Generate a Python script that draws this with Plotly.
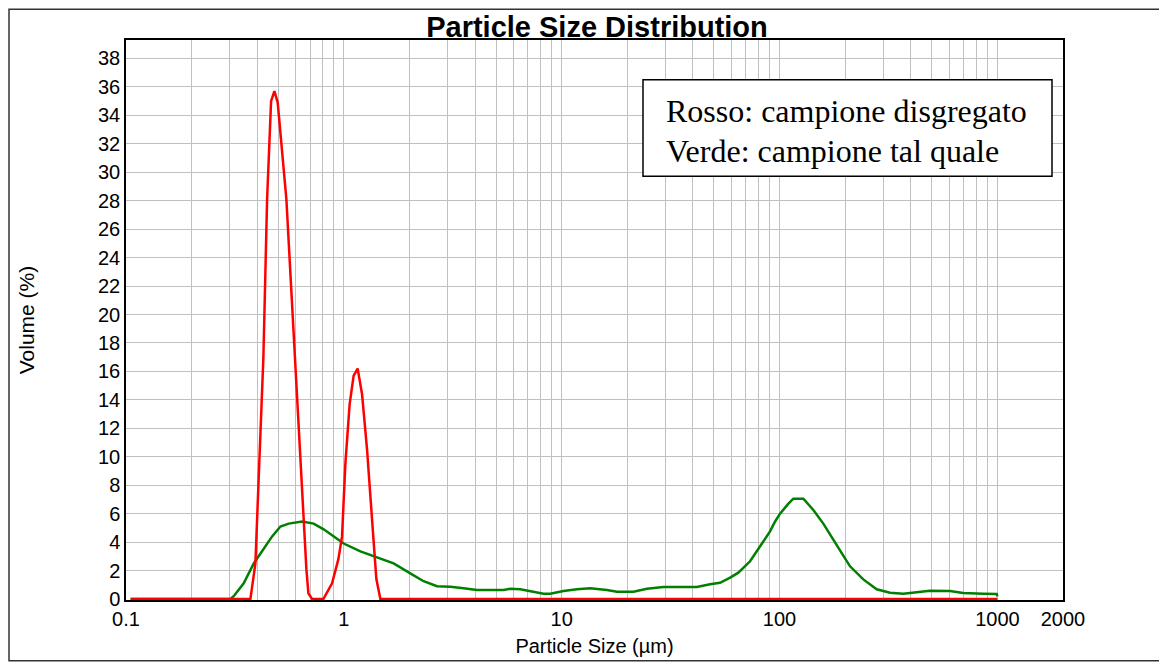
import plotly.graph_objects as go

# ---- data (particle size in µm, volume in %) ----
red_size = [0.105, 0.3725, 0.3926, 0.4272, 0.4443, 0.4634, 0.4799, 0.4969, 0.5448,
            0.5948, 0.6318, 0.673, 0.6874, 0.7148, 0.8054, 0.8828, 0.9437, 0.981,
            1.016, 1.063, 1.109, 1.157, 1.212, 1.278, 1.347, 1.41, 1.471, 1000]
red_vol = [0, 0, 2.5, 17, 28.1, 35.0, 35.7, 34.9, 28.1,
           17, 9.1, 2.1, 0.4, 0, 0, 1.1, 2.8, 4.4,
           9.5, 13.7, 15.7, 16.2, 14.4, 10.5, 5.6, 1.4, 0, 0]

green_size = [0.105, 0.3016, 0.3122, 0.347, 0.3858, 0.4286, 0.4685, 0.5114, 0.5583,
              0.6434, 0.7269, 0.8079, 0.8978, 0.998, 1.191, 1.42, 1.692, 2.018,
              2.323, 2.677, 3.08, 3.544, 4.083, 5.41, 5.805, 6.451, 7.17, 8.25,
              8.86, 10.19, 11.74, 13.51, 16.12, 17.92, 21.35, 24.6, 29.3, 41.7,
              48.0, 53.3, 59.3, 64.7, 73.2, 81.4, 90.4, 95.4, 100.5, 109.8,
              115.7, 128.6, 142.9, 158.8, 173.5, 192.9, 210.6, 242.3, 279.2,
              321.3, 369.8, 426.0, 490.3, 605.5, 696.8, 860.8, 991.6, 1000]
green_vol = [0, 0, 0.2, 1.1, 2.5, 3.5, 4.4, 5.1, 5.3,
             5.45, 5.3, 4.9, 4.4, 3.9, 3.35, 2.9, 2.5, 1.8,
             1.25, 0.9, 0.86, 0.75, 0.63, 0.63, 0.72, 0.68, 0.56, 0.37,
             0.37, 0.56, 0.68, 0.75, 0.63, 0.51, 0.51, 0.72, 0.84, 0.84,
             1.03, 1.14, 1.5, 1.85, 2.65, 3.7, 4.75, 5.45, 6.0, 6.7,
             7.05, 7.05, 6.26, 5.3, 4.4, 3.23, 2.3, 1.38, 0.68,
             0.44, 0.37, 0.49, 0.58, 0.56, 0.42, 0.37, 0.35, 0.18]

x_tick_vals = [0.1, 1, 10, 100, 1000, 2000]
x_tick_text = ["0.1", "1", "10", "100", "1000", "2000"]
x_minor_vals = [m * d for d in (0.1, 1, 10, 100) for m in range(2, 10)]
y_tick_vals = list(range(0, 39, 2))

title_text = "Particle Size Distribution"
legend_lines = ["Rosso: campione disgregato", "Verde: campione tal quale"]

GRID = "#c0c0c0"
FONT = "Liberation Sans, Arial, sans-serif"

# page offset of the figure inside the browser (body margin)
OFF = 8
W, H = 1167 - OFF, 666 - OFF
ML, MR, MT, MB = 126 - OFF, 104, 40 - OFF, 63
PW = W - ML - MR
PH = H - MT - MB


def px_x(p):  # page pixel -> paper x
    return (p - OFF - ML) / PW


def px_y(p):  # page pixel -> paper y
    return (H - MB - (p - OFF)) / PH


fig = go.Figure()
fig.add_trace(go.Scatter(x=green_size, y=green_vol, mode="lines",
                         line=dict(color="#008000", width=2.5), showlegend=False))
fig.add_trace(go.Scatter(x=red_size, y=red_vol, mode="lines",
                         line=dict(color="#ff0000", width=2.5), showlegend=False))

fig.update_layout(
    width=W, height=H,
    margin=dict(l=ML, r=MR, t=MT, b=MB),
    paper_bgcolor="white", plot_bgcolor="white",
    font=dict(family=FONT, color="black", size=20),
    title=dict(text="<b>" + title_text + "</b>", x=px_x(597), xref="paper", xanchor="center",
               y=1 - (27 - OFF) / H, yanchor="middle", yref="container",
               font=dict(family=FONT, size=29, color="black")),
    showlegend=False,
)

fig.update_xaxes(
    type="log", range=[-1, 3.30103],
    tickvals=x_tick_vals, ticktext=x_tick_text, ticks="", ticklen=0,
    tickfont=dict(size=20),
    showgrid=True, gridcolor=GRID, gridwidth=1,
    minor=dict(tickvals=x_minor_vals, showgrid=True, gridcolor=GRID, gridwidth=1, ticks=""),
    showline=True, linecolor="black", linewidth=1.5, mirror=True,
    layer="below traces",
    title=dict(text="Particle Size (µm)", font=dict(size=20), standoff=10),
    zeroline=False,
)
fig.update_yaxes(
    range=[-0.07, 39.3], tickvals=y_tick_vals, ticks="", ticklen=0,
    tickfont=dict(size=20),
    showgrid=True, gridcolor=GRID, gridwidth=1,
    showline=True, linecolor="black", linewidth=1.5, mirror=True,
    layer="below traces",
    title=dict(text="Volume (%)", font=dict(size=21), standoff=58),
    zeroline=False,
)

# legend box (text box in the upper right)
fig.add_shape(type="rect", xref="paper", yref="paper",
              x0=px_x(643), x1=px_x(1052), y0=px_y(177), y1=px_y(80),
              line=dict(color="black", width=1.5), fillcolor="white", layer="above")
for i, line in enumerate(legend_lines):
    fig.add_annotation(xref="paper", yref="paper", x=px_x(664), y=px_y([111, 152][i]),
                       xanchor="left", yanchor="middle", showarrow=False, text=line,
                       font=dict(family="Liberation Serif, Times New Roman, serif",
                                 size=32, color="black"))

# outer frame
fig.add_shape(type="rect", xref="paper", yref="paper",
              x0=px_x(9), x1=px_x(1164), y0=px_y(664), y1=px_y(9),
              line=dict(color="#333333", width=1.5), fillcolor="rgba(0,0,0,0)", layer="below")

fig.write_html("out.html")
